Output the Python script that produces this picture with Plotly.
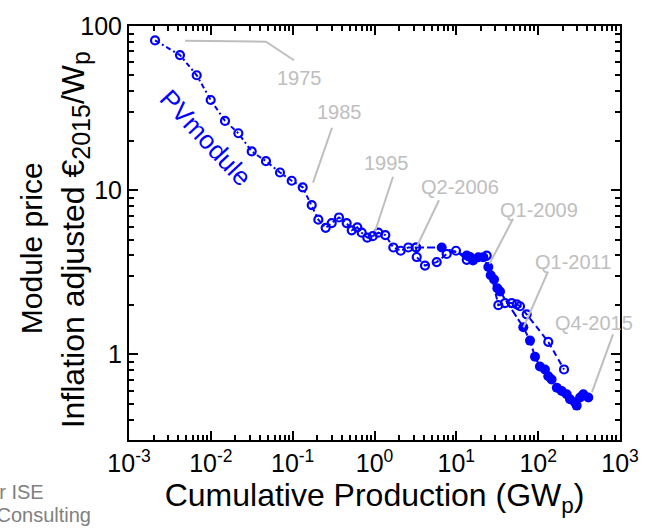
import math
import plotly.graph_objects as go

# ---------------- data ----------------
hist_x = [0.00208, 0.0042, 0.00672, 0.00996, 0.0149, 0.0217, 0.0316, 0.0472, 0.070, 0.0973,
          0.1327, 0.171, 0.206, 0.253, 0.300, 0.368, 0.457, 0.527, 0.617, 0.698,
          0.817, 0.951, 1.113, 1.356, 1.698, 2.09, 2.59, 3.22]
hist_y = [81.7, 66.5, 50.1, 35.4, 26.4, 22.2, 17.2, 15.0, 12.8, 11.4,
          10.4, 8.1, 6.6, 5.89, 6.30, 6.81, 6.30, 5.69, 5.93, 5.50,
          5.13, 5.24, 5.50, 5.32, 4.47, 4.27, 4.47, 4.47]

open2_x = [3.22, 3.28, 4.14, 5.76, 7.63, 9.91, 13.4, 23.5, 32.6, 39.3, 47.5, 54.7, 60.0, 72.4, 133, 207]
open2_y = [4.47, 3.91, 3.47, 3.64, 4.08, 4.27, 3.76, 3.99, 1.99, 2.05, 2.05, 2.01, 1.96, 1.75, 1.19, 0.807]

filled_x = [3.22, 6.63, 13.4, 14.7, 16.0, 18.6, 21.4, 24.6, 26.3, 28.9, 31.7, 34.2, 65.8, 79.5,
            91.5, 105, 121, 133, 146, 169, 194, 223, 245, 282, 296, 325, 356, 410]
filled_y = [4.47, 4.47, 3.99, 3.91, 3.72, 3.90, 3.90, 3.40, 3.03, 2.85, 2.52, 2.41, 1.46, 1.21,
            0.965, 0.841, 0.807, 0.733, 0.701, 0.624, 0.597, 0.570, 0.532, 0.508, 0.486, 0.544, 0.570, 0.544]

label_text = ["1975", "1985", "1995", "Q2-2006", "Q1-2009", "Q1-2011", "Q4-2015"]

x_tickvals = [1e-3, 1e-2, 1e-1, 1, 10, 100, 1000]
x_ticktext = ["10<sup>-3</sup>", "10<sup>-2</sup>", "10<sup>-1</sup>", "10<sup>0</sup>",
              "10<sup>1</sup>", "10<sup>2</sup>", "10<sup>3</sup>"]
y_tickvals = [1, 10, 100]
y_ticktext = ["1", "10", "100"]

# ---------------- layout geometry ----------------
W, H = 666, 528
L, R, T, B = 129, 46, 17, 88
PW, PH = W - L - R, H - T - B


def px(x):
    return (x - L) / PW


def py(y):
    return (H - B - y) / PH


BLUE = "#0000FF"
GREY = "#BEBEBE"
FONT = "Liberation Sans, Arial, sans-serif"

fig = go.Figure()

sizes = [0] + [10] * (len(filled_x) - 1)
fig.add_trace(go.Scatter(
    x=filled_x, y=filled_y, mode="lines+markers",
    line=dict(color=BLUE, width=2, dash="8px,3px"),
    marker=dict(symbol="circle", size=sizes, color=BLUE, opacity=1, line=dict(width=0)),
    showlegend=False))

fig.add_trace(go.Scatter(
    x=open2_x, y=open2_y, mode="lines+markers",
    line=dict(color=BLUE, width=2, dash="6px,4px"),
    marker=dict(symbol="circle-open", size=8, color=BLUE, opacity=1, line=dict(width=2.2)),
    showlegend=False))

fig.add_trace(go.Scatter(
    x=hist_x, y=hist_y, mode="lines+markers",
    line=dict(color=BLUE, width=2, dash="5px,3px,2px,3px"),
    marker=dict(symbol="circle-open", size=8, color=BLUE, opacity=1, line=dict(width=2.2)),
    showlegend=False))

# minor tick positions
x_minor = [m * 10 ** e for e in range(-3, 3) for m in range(2, 10)]
y_minor = [m * 10 ** e for e in range(-1, 2) for m in range(2, 10) if m * 10 ** e >= 0.3]

axis_common = dict(
    showline=True, linecolor="black", linewidth=2, mirror="ticks",
    ticks="inside", ticklen=9, tickwidth=2, tickcolor="black",
    showgrid=False, zeroline=False,
    tickfont=dict(family=FONT, size=25, color="black"),
)

fig.update_xaxes(
    type="log", range=[-3, 3], tickmode="array", tickvals=x_tickvals, ticktext=x_ticktext,
    minor=dict(tickmode="array", tickvals=x_minor, ticks="inside", ticklen=5,
               tickwidth=1.5, tickcolor="black", showgrid=False),
    title=dict(text="Cumulative Production (GW<sub>p</sub>)",
               font=dict(family=FONT, size=32, color="black"), standoff=2),
    **axis_common)

fig.update_yaxes(
    type="log", range=[math.log10(0.3), 2], tickmode="array", tickvals=y_tickvals, ticktext=y_ticktext,
    minor=dict(tickmode="array", tickvals=y_minor, ticks="inside", ticklen=5,
               tickwidth=1.5, tickcolor="black", showgrid=False),
    **axis_common)

annotations = []
shapes = []


def note(text, x, y, size, color, angle=0, xanchor="center"):
    annotations.append(dict(text=text, xref="paper", yref="paper", x=px(x), y=py(y),
                            xanchor=xanchor, yanchor="middle", textangle=angle,
                            showarrow=False, font=dict(family=FONT, size=size, color=color)))


# y axis title (two lines)
note("Module price", 31, 244, 30, "black", angle=-90)
note("Inflation adjusted €<sub><span style='font-size:25px'>2015</span></sub>/W"
     "<sub><span style='font-size:25px'>p</span></sub>", 75, 236, 32, "black", angle=-90)

# PV module label
note("PVmodule", 206, 131, 26, BLUE, angle=47)

# grey milestone labels and leader lines
label_pos = [(299, 70), (339, 105), (386, 157), (460, 182), (539, 205), (573, 258), (594, 320)]
leader = [
    [(185, 32), (266, 33), (294, 52)],
    [(332, 121), (313, 177)],
    [(393, 171), (375, 227)],
    [(439, 195), (417, 242)],
    [(513, 214), (489.5, 260)],
    [(548, 268), (523.5, 325)],
    [(613, 332), (592, 391)],
]
for txt, (lx, ly), pts in zip(label_text, label_pos, leader):
    note(txt, lx, ly, 20, GREY)
    path = "M " + " L ".join(f"{px(a):.5f},{py(b):.5f}" for a, b in pts)
    shapes.append(dict(type="path", xref="paper", yref="paper", path=path,
                       line=dict(color=GREY, width=2)))

# cut-off source text, bottom left
note("Fraunhofer ISE", 46, 493.5, 20, "#808080", xanchor="right")
note("Navigant Consulting", 93, 516.5, 20, "#808080", xanchor="right")

fig.update_layout(
    width=W, height=H,
    margin=dict(l=L, r=R, t=T, b=B),
    paper_bgcolor="white", plot_bgcolor="white",
    annotations=annotations, shapes=shapes,
    font=dict(family=FONT),
)

fig.write_html("out.html",
               config={"displayModeBar": False},
               post_script="document.body.style.margin='0px';document.body.style.padding='0px';")
